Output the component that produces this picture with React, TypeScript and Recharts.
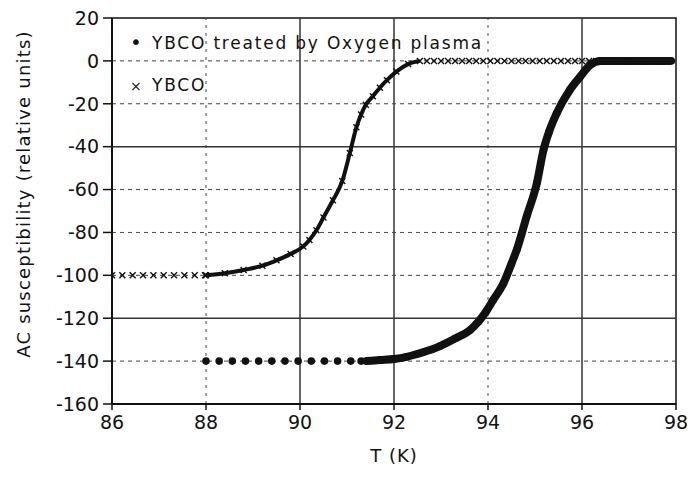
import React from 'react';
import { ComposedChart, Line, Scatter, XAxis, YAxis, ReferenceLine, ReferenceArea, Label } from 'recharts';

// axis ticks
const xTicks = [86, 88, 90, 92, 94, 96, 98];
const yTicks = [20, 0, -20, -40, -60, -80, -100, -120, -140, -160];

// grid lines as drawn in the scan (some solid, some broken)
const solidX = [90, 92, 96];
const dashedX = [88, 94];
const solidY = [-40, -120];
const dashedY = [0, -20, -60, -80, -100, -140];

// YBCO (crosses)
const ybcoLowT = [86.0, 86.22, 86.44, 86.66, 86.88, 87.1, 87.32, 87.54, 87.76, 87.98];
const ybcoLowChi = [-100, -100, -100, -100, -100, -100, -100, -100, -100, -100];
const ybcoCurveT = [88.0, 88.4, 88.8, 89.2, 89.5, 89.8, 90.07, 90.2, 90.35, 90.5, 90.7, 90.9, 91.06, 91.2, 91.3, 91.4, 91.55, 91.7, 91.85, 92.05, 92.3, 92.55];
const ybcoCurveChi = [-100, -99, -97.5, -95.5, -93, -90, -86.5, -83.5, -79, -73, -65, -56, -43, -31, -25, -20.5, -16.5, -12.5, -9, -5, -1.5, 0];
const ybcoTopT = [92.7, 92.85, 93.0, 93.15, 93.3, 93.45, 93.6, 93.75, 93.9, 94.05, 94.2, 94.35, 94.5, 94.65, 94.8, 94.95, 95.1, 95.25, 95.4, 95.55, 95.7, 95.85, 96.0, 96.15, 96.3];
const ybcoTopChi = [0, 0, 0, 0, 0, 0, 0, 0, 0, 0, 0, 0, 0, 0, 0, 0, 0, 0, 0, 0, 0, 0, 0, 0, 0];

// YBCO treated by oxygen plasma (filled dots)
const treatedLowT = [88.0, 88.28, 88.56, 88.84, 89.12, 89.4, 89.68, 89.96, 90.24, 90.52, 90.8, 91.08, 91.3];
const treatedLowChi = [-140, -140, -140, -140, -140, -140, -140, -140, -140, -140, -140, -140, -140];
const treatedCurveT = [91.4, 91.7, 92.0, 92.27, 92.6, 92.98, 93.3, 93.62, 93.8, 93.97, 94.11, 94.33, 94.5, 94.61, 94.82, 95.04, 95.18, 95.3, 95.46, 95.74, 95.96, 96.17, 96.4, 96.7, 97.0, 97.3, 97.6, 97.9];
const treatedCurveChi = [-140, -139.5, -139, -138, -136, -133, -129.5, -125.5, -121.5, -116.5, -111.5, -103.7, -94.5, -88.2, -72.7, -57, -41.6, -33, -24.5, -13.6, -7.4, -2, 0, 0, 0, 0, 0, 0];

const toPoints = (t: number[], chi: number[]) => t.map((x, i) => ({ t: x, chi: chi[i] }));

const ybcoMarks = [
  ...toPoints(ybcoLowT, ybcoLowChi),
  ...toPoints(ybcoCurveT, ybcoCurveChi),
  ...toPoints(ybcoTopT, ybcoTopChi),
];
const ybcoLine = toPoints(ybcoCurveT, ybcoCurveChi);
const treatedMarks = [...toPoints(treatedLowT, treatedLowChi), ...toPoints(treatedCurveT, treatedCurveChi)];
const treatedLine = toPoints(treatedCurveT, treatedCurveChi);

const INK = '#111';
const FONT = '"DejaVu Sans", Arial, sans-serif';

const Cross = (props: any) => {
  const { cx, cy } = props;
  const s = 3;
  return (
    <path
      d={`M${cx - s},${cy - s}L${cx + s},${cy + s}M${cx - s},${cy + s}L${cx + s},${cy - s}`}
      stroke={INK}
      strokeWidth={1.4}
    />
  );
};

const Dot = (props: any) => <circle cx={props.cx} cy={props.cy} r={3.8} fill={INK} />;

const YTitle = (props: any) => {
  const { viewBox } = props;
  const x = viewBox.x - 19;
  const y = viewBox.y + viewBox.height / 2 - 17;
  return (
    <text x={x} y={y} transform={`rotate(-90, ${x}, ${y})`} textAnchor="middle" dominantBaseline="central"
      fontFamily={FONT} fontSize={18} letterSpacing={1.2} fill={INK}>
      AC susceptibility (relative units)
    </text>
  );
};

const XTitle = (props: any) => {
  const { viewBox } = props;
  return (
    <text x={viewBox.x + viewBox.width / 2} y={viewBox.y + 58} textAnchor="middle"
      fontFamily={FONT} fontSize={18} letterSpacing={1} fill={INK}>
      T (K)
    </text>
  );
};

export default function App() {
  return (
    <div style={{ position: 'absolute', left: 0, top: 0, width: 691, height: 477, background: '#fff' }}>
      <ComposedChart width={691} height={477} margin={{ top: 18, right: 15, bottom: 33, left: 42 }}>
        <XAxis
          type="number"
          dataKey="t"
          domain={[86, 98]}
          ticks={xTicks}
          allowDataOverflow
          tickSize={6}
          tickMargin={6}
          height={40}
          axisLine={{ stroke: INK, strokeWidth: 2 }}
          tickLine={{ stroke: INK, strokeWidth: 1.5 }}
          tick={{ fontSize: 19, fill: INK, fontFamily: FONT }}
        >
          <Label content={<XTitle />} />
        </XAxis>
        <YAxis
          type="number"
          dataKey="chi"
          domain={[-160, 20]}
          ticks={yTicks}
          allowDataOverflow
          width={70}
          tickSize={9}
          tickMargin={4}
          axisLine={{ stroke: INK, strokeWidth: 2 }}
          tickLine={{ stroke: INK, strokeWidth: 1.5 }}
          tick={{ fontSize: 19, fill: INK, fontFamily: FONT }}
        >
          <Label content={<YTitle />} />
        </YAxis>
        <ReferenceArea x1={86} x2={98} y1={-160} y2={20} fill="none" stroke={INK} strokeWidth={1.5} />
        {solidX.map((v) => (
          <ReferenceLine key={'sx' + v} x={v} stroke="#333" strokeWidth={1.5} />
        ))}
        {dashedX.map((v) => (
          <ReferenceLine key={'dx' + v} x={v} stroke="#444" strokeWidth={1} strokeDasharray="3 5" />
        ))}
        {solidY.map((v) => (
          <ReferenceLine key={'sy' + v} y={v} stroke="#333" strokeWidth={1.5} />
        ))}
        {dashedY.map((v) => (
          <ReferenceLine key={'dy' + v} y={v} stroke="#444" strokeWidth={1} strokeDasharray="4 4" />
        ))}
        <Line data={ybcoLine} dataKey="chi" type="monotone" stroke={INK} strokeWidth={4} dot={false} isAnimationActive={false} />
        <Line data={treatedLine} dataKey="chi" type="monotone" stroke={INK} strokeWidth={8} dot={false} isAnimationActive={false} />
        <Scatter data={ybcoMarks} dataKey="chi" shape={<Cross />} isAnimationActive={false} />
        <Scatter data={treatedMarks} dataKey="chi" shape={<Dot />} isAnimationActive={false} />
      </ComposedChart>
      <div style={{ position: 'absolute', left: 130, top: 21, fontFamily: FONT, fontSize: 17, letterSpacing: 1.8, color: INK, lineHeight: '42px', whiteSpace: 'nowrap' }}>
        <div>
          <span style={{ display: 'inline-block', width: 22, fontSize: 20 }}>•</span>YBCO treated by Oxygen plasma
        </div>
        <div>
          <span style={{ display: 'inline-block', width: 22, fontSize: 14 }}>×</span>YBCO
        </div>
      </div>
    </div>
  );
}
